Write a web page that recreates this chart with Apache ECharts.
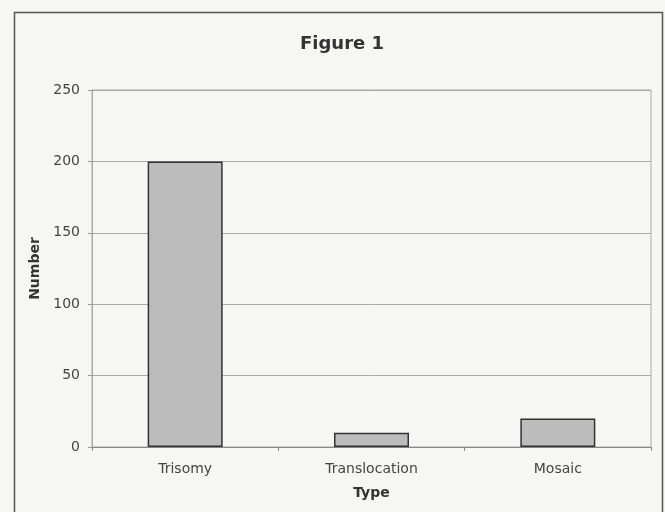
<!DOCTYPE html>
<html>
<head>
<meta charset="utf-8">
<script src="https://cdn.jsdelivr.net/npm/echarts@6/dist/echarts.min.js"></script>
<style>
  html, body { margin: 0; padding: 0; background: #f6f6f5; }
  #chart { width: 665px; height: 512px; }
</style>
</head>
<body>
<div id="chart"></div>
<script>
// Counts by type
const categories = ['Trisomy', 'Translocation', 'Mosaic'];
const counts = [200, 10, 20];
const yTicks = { min: 0, max: 250, interval: 50 };

const chart = echarts.init(document.getElementById('chart'), null, { renderer: 'canvas' });
const font = '"DejaVu Sans", Verdana, sans-serif';

chart.setOption({
  backgroundColor: '#f6f6f5',
  animation: false,
  graphic: [{
    type: 'rect',
    shape: { x: 14.5, y: 12.5, width: 648, height: 520 },
    style: { fill: 'none', stroke: '#555', lineWidth: 1.5 },
    silent: true
  }],
  title: {
    text: 'Figure 1',
    left: 337,
    top: 30,
    textAlign: 'center',
    textStyle: { fontFamily: font, fontSize: 18, fontWeight: 'bold', color: '#333' }
  },
  grid: {
    left: 92, right: 14, top: 90, bottom: 65,
    show: true, borderColor: '#aaa', borderWidth: 1, backgroundColor: 'transparent'
  },
  xAxis: {
    type: 'category',
    data: categories,
    name: 'Type',
    nameLocation: 'middle',
    nameGap: 39,
    nameTextStyle: { fontFamily: font, fontSize: 14, fontWeight: 'bold', color: '#333' },
    axisLine: { lineStyle: { color: '#888', width: 1 } },
    axisTick: { show: true, length: 4, lineStyle: { color: '#888' } },
    axisLabel: { fontFamily: font, fontSize: 14, color: '#444', margin: 15 }
  },
  yAxis: {
    type: 'value',
    min: yTicks.min, max: yTicks.max, interval: yTicks.interval,
    name: 'Number',
    nameLocation: 'middle',
    nameGap: 45,
    nameRotate: 90,
    nameTextStyle: { fontFamily: font, fontSize: 14, fontWeight: 'bold', color: '#333' },
    axisLine: { show: true, lineStyle: { color: '#aaa', width: 1 } },
    axisTick: { show: true, length: 4, lineStyle: { color: '#999' } },
    axisLabel: { fontFamily: font, fontSize: 14, color: '#444', margin: 12 },
    splitLine: { lineStyle: { color: '#aaa', width: 1 } }
  },
  series: [{
    type: 'bar',
    data: counts,
    barWidth: 75,
    itemStyle: { color: '#bcbcbc', borderColor: '#333', borderWidth: 1.5 }
  }]
});
</script>
</body>
</html>
